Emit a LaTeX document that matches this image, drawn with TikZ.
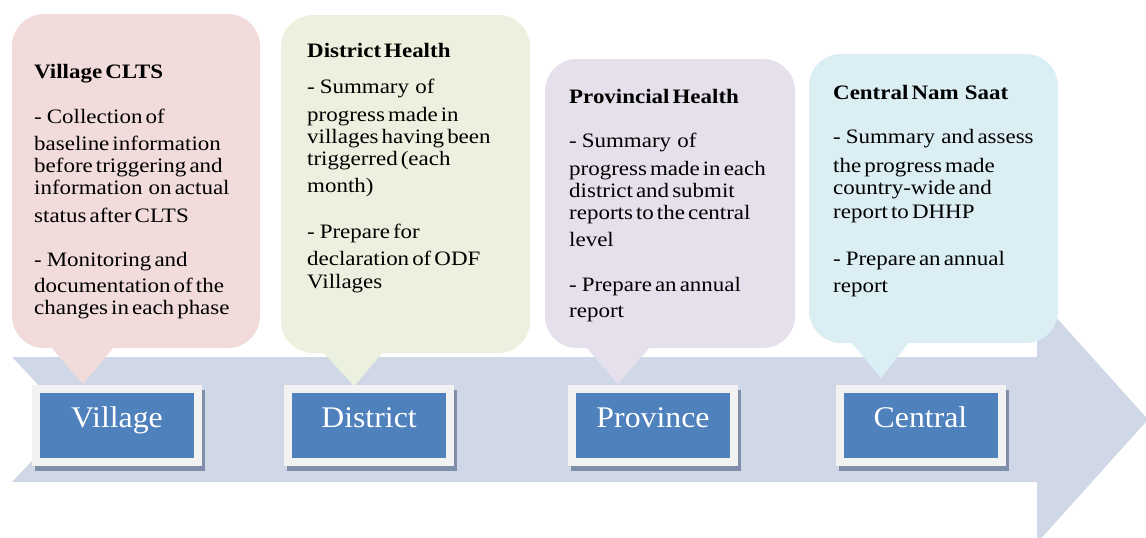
\documentclass[tikz,border=0pt]{standalone}
\usepackage{fontspec}
\setmainfont{Liberation Serif}[FakeStretch=1.12]
\newfontfamily\boxlabelfont{Liberation Serif}[FakeStretch=1.06]
\usepackage{tikz}
\usetikzlibrary{shadows}
\definecolor{villagefill}{HTML}{F2DCDB}
\definecolor{districtfill}{HTML}{EBF1DE}
\definecolor{provincefill}{HTML}{E5E0EC}
\definecolor{centralfill}{HTML}{DBEEF4}
\definecolor{bandfill}{HTML}{D0D8E8}
\definecolor{labelblue}{HTML}{4F81BD}
\definecolor{labelframe}{HTML}{F2F2F2}
\definecolor{labelshadow}{HTML}{7F8FA9}

\begin{document}
\begin{tikzpicture}[x=1pt, y=-1pt,
		notetext/.style={anchor=north west, align=left, inner sep=0pt, font={\fontsize{20.5}{22}\selectfont\spaceskip=0.15em plus 0.05em\relax}},
		levelbox/.style={fill=labelframe, minimum width=170pt, minimum height=81pt, inner sep=0pt, text=white,
			font={\boxlabelfont\fontsize{30}{30}\selectfont}, text height=16pt, text depth=13pt,
			drop shadow={shadow xshift=3pt, shadow yshift=-5pt, fill=labelshadow, opacity=1},
			path picture={\fill[labelblue] ([xshift=8pt,yshift=-8pt]path picture bounding box.north west) rectangle ([xshift=-8pt,yshift=8pt]path picture bounding box.south east);}}]
		\useasboundingbox (0,0) rectangle (1146,538);
		\clip (0,0) rectangle (1146,538);
		%%
		\fill[bandfill] (12,357) -- (1037,357) -- (1037,296) -- (1148,419.5) -- (1037,543) -- (1037,482) -- (12,482) -- (71,419.5) -- cycle;
		%%
		\fill[villagefill, rounded corners=32pt] (12,14) rectangle (260,348);
		\fill[villagefill] (50,346) -- (83,384) -- (115,346) -- cycle;
		\node[notetext] (villagetext) at (34,64) {\textbf{Village CLTS}\\[23pt]
			-\hspace{5pt}Collection of\\[5pt]
			baseline information\\
			before triggering and\\
			information\ \ on actual\\[6pt]
			status after CLTS\\[22pt]
			-\hspace{5pt}Monitoring and\\[4pt]
			documentation of the\\
			changes in each phase};
		%%
		\fill[districtfill, rounded corners=32pt] (281,15) rectangle (530,353);
		\fill[districtfill] (322,351) -- (354,386) -- (384,351) -- cycle;
		\node[notetext] (districttext) at (307,43) {\textbf{District Health}\\[14pt]
			-\hspace{5pt}Summary\ \ of\\[6pt]
			progress made in\\
			villages having been\\
			triggerred (each\\[5pt]
			month)\\[24pt]
			-\hspace{5pt}Prepare for\\[5pt]
			declaration of ODF\\[1pt]
			Villages};
		%%
		\fill[provincefill, rounded corners=32pt] (545,59) rectangle (795,348);
		\fill[provincefill] (585,346) -- (618,384) -- (651,346) -- cycle;
		\node[notetext] (provincetext) at (569,89) {\textbf{Provincial Health}\\[22pt]
			-\hspace{5pt}Summary\ \ of\\[6pt]
			progress made in each\\
			district and submit\\
			reports to the central\\[5pt]
			level\\[23pt]
			-\hspace{5pt}Prepare an annual\\[4pt]
			report};
		%%
		\fill[centralfill, rounded corners=32pt] (809,54) rectangle (1058,343);
		\fill[centralfill] (850,341) -- (881,378) -- (910,341) -- cycle;
		\node[notetext] (centraltext) at (833,85) {\textbf{Central Nam\ \ Saat}\\[22pt]
			-\hspace{5pt}Summary\ \ and assess\\[7pt]
			the progress made\\
			country-wide and\\[2pt]
			report to DHHP\\[25pt]
			-\hspace{5pt}Prepare an annual\\[5pt]
			report};
		%%
		\node[levelbox] (village) at (117,425.5) {Village};
		\node[levelbox] (district) at (369,425.5) {District};
		\node[levelbox] (province) at (653,425.5) {Province};
		\node[levelbox] (central) at (920.5,425.5) {Central};
	\end{tikzpicture}
\end{document}
